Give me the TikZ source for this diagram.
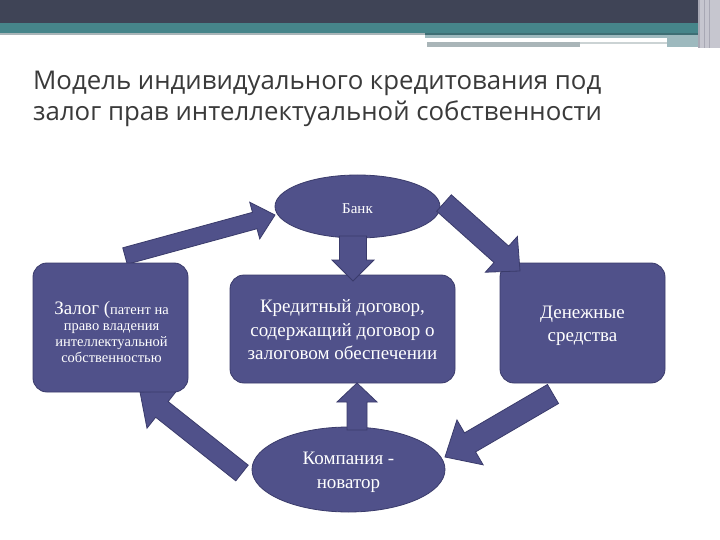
\documentclass[tikz,border=0pt]{standalone}
\usepackage{fontspec}
\setmainfont{Liberation Serif}
\newfontfamily\titlefont{Open Sans}
\usetikzlibrary{calc,shapes.geometric}
\definecolor{boxfill}{HTML}{50518A}
\definecolor{boxline}{HTML}{3A3B6B}
\definecolor{banddark}{HTML}{3F4456}
\definecolor{bandteal}{HTML}{46858A}
\definecolor{bandtealdk}{HTML}{3E6E74}
\definecolor{bandgray}{HTML}{A9B5B8}
\definecolor{bandblue}{HTML}{9DB9BE}
\definecolor{edgegray}{HTML}{C6C6CF}
\definecolor{edgegray2}{HTML}{A8A8B4}
\definecolor{titlegray}{HTML}{3A3A3A}
\newcommand\blockarrow[6]{%
  \coordinate (#1-t) at (#2);
  \coordinate (#1-p) at (#3);
  \coordinate (#1-h) at ($(#1-p)!#5!(#1-t)$);
  \filldraw[arrowshape] ($(#1-t)!#4!90:(#1-p)$) -- ($(#1-h)!#4!-90:(#1-t)$)
    -- ($(#1-h)!#6!-90:(#1-t)$) -- (#1-p) -- ($(#1-h)!#6!90:(#1-t)$)
    -- ($(#1-h)!#4!90:(#1-t)$) -- ($(#1-t)!#4!-90:(#1-p)$) -- cycle;
}
\begin{document}
\begin{tikzpicture}[x=1pt,y=-1pt,
  arrowshape/.style={fill=boxfill,draw=boxline,line width=0.8pt,line join=miter},
  boxnode/.style={rectangle,rounded corners=14pt,fill=boxfill,draw=boxline,line width=0.8pt,inner sep=0pt},
  ellnode/.style={ellipse,fill=boxfill,draw=boxline,line width=0.8pt,inner sep=0pt},
  label/.style={text=white,align=center,inner sep=0pt},
  maintext/.style={font=\fontsize{19}{23.5}\selectfont},
  smalltext/.style={font=\fontsize{14.5}{16}\selectfont},
  titletext/.style={anchor=base west,inner sep=0pt,text=titlegray,font=\titlefont\fontsize{25.8}{30}\selectfont}]
\useasboundingbox (0,0) rectangle (720,540);
\fill[white] (0,0) rectangle (720,540);
% top band
\fill[banddark] (0,0) rectangle (698,23);
\fill[bandteal] (0,23) rectangle (698,33);
\fill[bandgray] (0,33) rectangle (425,35.5);
\fill[bandtealdk] (425,33) rectangle (698,35);
\fill[bandblue] (425,35) rectangle (698,38);
\fill[bandgray] (427,42) rectangle (580,47);
\fill[bandgray!60] (580,42) rectangle (667,44.5);
\fill[bandblue] (667,38) rectangle (698,47);
\fill[edgegray2] (698,0) rectangle (700,48);
\fill[edgegray] (700,0) rectangle (720,48);
\fill[edgegray2] (704,0) rectangle (705,48);
\fill[edgegray2] (709,0) rectangle (710,48);
% title
\node[titletext] (title1) at (33,90) {Модель индивидуального кредитования под};
\node[titletext] (title2) at (33,121) {залог прав интеллектуальной собственности};
% arrows under the pledge box
\blockarrow{a1}{125,256}{275,215}{8.5pt}{21pt}{19pt}
\blockarrow{a4}{242,473}{140,392}{10pt}{28pt}{24pt}
% shapes
\node[ellnode,minimum width=165pt,minimum height=63pt] (bank) at (357.5,206.5) {};
\node[boxnode,minimum width=225pt,minimum height=108pt] (credit) at (342.5,329) {};
\node[boxnode,minimum width=155pt,minimum height=129pt] (pledge) at (110.5,327.5) {};
\node[boxnode,minimum width=165pt,minimum height=120pt] (money) at (582.5,323) {};
\node[ellnode,minimum width=193pt,minimum height=85pt] (company) at (348.5,469.5) {};
% texts
\node[label,font=\fontsize{15}{18}\selectfont] (bank-text) at ($(bank)+(0,2)$) {Банк};
\node[label,maintext] (credit-text) at ($(credit)+(0,1)$)
  {Кредитный договор,\\содержащий договор о\\залоговом обеспечении};
\node[label,smalltext] (pledge-text) at ($(pledge)+(1,4.5)$)
  {{\fontsize{19}{16}\selectfont Залог (}патент на\\право владения\\интеллектуальной\\собственностью};
\node[label,maintext] (money-text) at ($(money)+(0,3)$) {Денежные\\средства};
\node[label,maintext] (company-text) at ($(company)+(0,3)$) {Компания -\\новатор};
% arrows over nodes
\blockarrow{a2}{444,203}{520,271}{11pt}{25pt}{24pt}
\blockarrow{a3}{553,394}{445,457}{11pt}{29pt}{26pt}
\blockarrow{ad}{353,236}{353,281}{13.5pt}{21pt}{21pt}
\blockarrow{au}{357,430}{357,383}{10pt}{19pt}{20pt}
\end{tikzpicture}
\end{document}
